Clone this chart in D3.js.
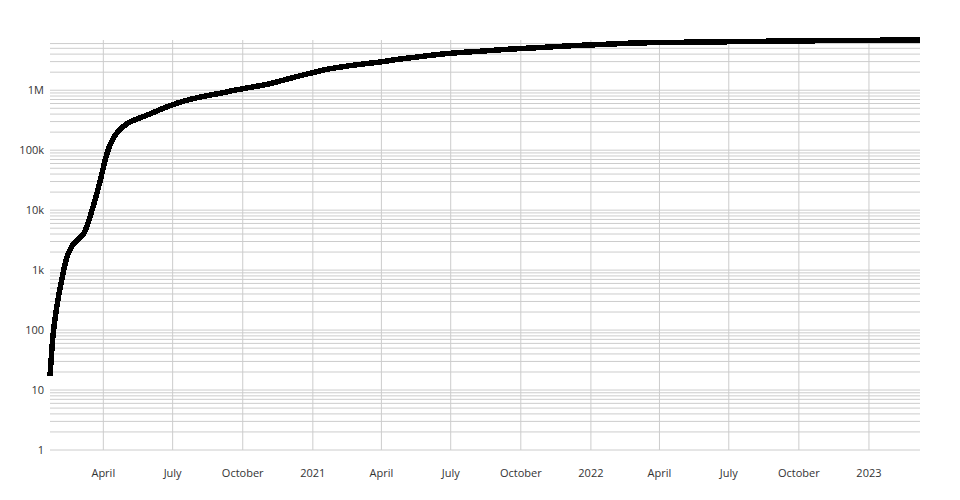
<!DOCTYPE html>
<html>
<head>
<meta charset="utf-8">
<script src="https://cdn.jsdelivr.net/npm/d3@7"></script>
<style>
  body { margin: 0; background: #fff; }
  svg { display: block; font-family: "Open Sans", sans-serif; }
</style>
</head>
<body>
<svg id="chart" width="960" height="500"></svg>
<script>
// Cumulative counts (log scale)
const dates = [
  "2020-01-22","2020-01-24","2020-01-26","2020-01-29","2020-02-01","2020-02-05","2020-02-09",
  "2020-02-13","2020-02-18","2020-02-22","2020-02-28","2020-03-06","2020-03-12","2020-03-16",
  "2020-03-20","2020-03-24","2020-03-29","2020-04-04","2020-04-08","2020-04-14","2020-04-20",
  "2020-04-27","2020-05-06","2020-05-20","2020-06-01","2020-06-15","2020-07-01","2020-07-15",
  "2020-08-01","2020-08-15","2020-09-01","2020-09-15","2020-10-01","2020-10-15","2020-11-01",
  "2020-11-15","2020-12-01","2020-12-15","2021-01-01","2021-01-15","2021-02-01","2021-02-14",
  "2021-03-01","2021-04-01","2021-04-15","2021-05-01","2021-05-16","2021-06-01","2021-06-15",
  "2021-07-01","2021-07-15","2021-08-01","2021-08-16","2021-09-01","2021-09-15","2021-10-01",
  "2021-10-15","2021-11-01","2021-11-16","2021-12-01","2021-12-15","2022-01-01","2022-01-15",
  "2022-02-01","2022-02-15","2022-03-01","2022-03-15","2022-04-01","2022-05-01","2022-06-01",
  "2022-07-01","2022-08-01","2022-09-01","2022-10-01","2022-11-01","2022-12-01","2023-01-01",
  "2023-02-01","2023-03-09"
];
const values = [
  17, 40, 90, 170, 300, 580, 1000,
  1700, 2300, 2800, 3300, 3800, 6000, 9000,
  13000, 20000, 35000, 75000, 110000, 160000, 205000,
  250000, 300000, 350000, 400000, 480000, 575000, 660000,
  745000, 815000, 885000, 970000, 1060000, 1140000, 1240000,
  1380000, 1560000, 1750000, 1960000, 2180000, 2380000, 2520000,
  2680000, 2960000, 3180000, 3380000, 3560000, 3780000, 3960000,
  4140000, 4280000, 4400000, 4530000, 4690000, 4830000, 4950000,
  5070000, 5200000, 5340000, 5480000, 5590000, 5690000, 5790000,
  5930000, 6050000, 6140000, 6190000, 6240000, 6310000, 6360000,
  6440000, 6520000, 6580000, 6650000, 6700000, 6740000, 6790000,
  6840000, 6880000
];
const yTickValues = [1, 10, 100, 1000, 10000, 100000, 1000000];

const parse = d3.utcParse("%Y-%m-%d");
const data = dates.map((d, i) => ({ date: parse(d), value: values[i] }));

const svg = d3.select("#chart");
const margin = { top: 40, right: 40, bottom: 50, left: 50 };
const W = 960, H = 500;

const x = d3.scaleUtc()
  .domain(d3.extent(data, d => d.date))
  .range([margin.left, W - margin.right]);
const y = d3.scaleLog()
  .domain([1, d3.max(data, d => d.value)])
  .range([H - margin.bottom, margin.top]);

// horizontal grid (all log ticks)
const minor = y.ticks();
svg.append("g")
  .selectAll("line").data(minor).join("line")
  .attr("x1", margin.left).attr("x2", W - margin.right)
  .attr("y1", d => y(d)).attr("y2", d => y(d))
  .attr("stroke", "#ccc").attr("stroke-width", 1);

// vertical grid
const xTicks = x.ticks(d3.utcMonth.every(3)).filter(d => x(d) > margin.left + 5 && x(d) < W - margin.right - 5);
svg.append("g")
  .selectAll("line").data(xTicks).join("line")
  .attr("x1", d => x(d)).attr("x2", d => x(d))
  .attr("y1", margin.top).attr("y2", H - margin.bottom)
  .attr("stroke", "#ccc").attr("stroke-width", 1);

// y labels
const yfmt = d3.format("~s");
svg.append("g")
  .selectAll("text").data(yTickValues).join("text")
  .attr("x", margin.left - 6).attr("y", d => y(d)).attr("dy", "0.32em")
  .attr("text-anchor", "end").attr("font-size", 11).attr("fill", "#333")
  .text(d => yfmt(d));

// x labels
const xfmt = d => d3.utcYear(d) < d ? d3.utcFormat("%B")(d) : d3.utcFormat("%Y")(d);
svg.append("g")
  .selectAll("text").data(xTicks).join("text")
  .attr("x", d => x(d)).attr("y", H - margin.bottom + 27)
  .attr("text-anchor", "middle").attr("font-size", 11).attr("fill", "#333")
  .text(xfmt);

// line
const line = d3.line().x(d => x(d.date)).y(d => y(d.value)).curve(d3.curveBasis);
svg.append("path").datum(data)
  .attr("d", line)
  .attr("fill", "none").attr("stroke", "#000").attr("stroke-width", 5.5)
  .attr("stroke-linejoin", "round")
  .attr("shape-rendering", "crispEdges");
</script>
</body>
</html>
